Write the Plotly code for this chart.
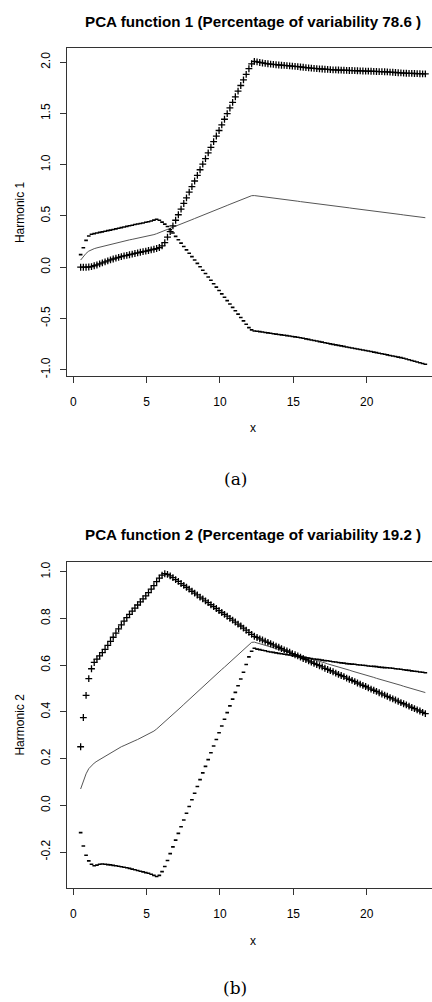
import numpy as np
import plotly.graph_objects as go

# ---------------- data ----------------
x_start, x_end, n_points = 0.5, 24.0, 128

mean_curve = [
    0.070, 0.105, 0.135, 0.157, 0.171, 0.181, 0.189, 0.196, 0.203, 0.210,
    0.218, 0.225, 0.232, 0.239, 0.245, 0.251, 0.256, 0.262, 0.267, 0.272,
    0.277, 0.282, 0.288, 0.293, 0.299, 0.305, 0.311, 0.318, 0.327, 0.337,
    0.347, 0.357, 0.368, 0.379, 0.389, 0.400, 0.411, 0.421, 0.432, 0.443,
    0.453, 0.464, 0.475, 0.485, 0.496, 0.507, 0.517, 0.528, 0.539, 0.550,
    0.560, 0.571, 0.582, 0.592, 0.603, 0.614, 0.624, 0.635, 0.646, 0.657,
    0.667, 0.678, 0.689, 0.698, 0.699, 0.696, 0.692, 0.689, 0.685, 0.682,
    0.678, 0.675, 0.671, 0.668, 0.664, 0.661, 0.657, 0.654, 0.651, 0.647,
    0.644, 0.640, 0.637, 0.633, 0.630, 0.627, 0.623, 0.620, 0.616, 0.613,
    0.610, 0.606, 0.603, 0.599, 0.596, 0.592, 0.589, 0.586, 0.582, 0.579,
    0.575, 0.572, 0.568, 0.565, 0.562, 0.558, 0.555, 0.551, 0.548, 0.544,
    0.541, 0.538, 0.534, 0.531, 0.527, 0.524, 0.520, 0.517, 0.514, 0.510,
    0.507, 0.503, 0.500, 0.497, 0.493, 0.490, 0.486, 0.483,
]

plus_h1 = [
    0.000, 0.000, 0.000, 0.002, 0.006, 0.014, 0.022, 0.032, 0.042, 0.052,
    0.062, 0.071, 0.080, 0.088, 0.096, 0.103, 0.110, 0.116, 0.122, 0.128,
    0.134, 0.140, 0.146, 0.152, 0.157, 0.163, 0.169, 0.175, 0.182, 0.192,
    0.208, 0.240, 0.293, 0.348, 0.403, 0.458, 0.512, 0.567, 0.622, 0.677,
    0.732, 0.786, 0.841, 0.896, 0.951, 1.006, 1.060, 1.115, 1.170, 1.225,
    1.280, 1.334, 1.389, 1.444, 1.499, 1.554, 1.608, 1.663, 1.718, 1.773,
    1.828, 1.882, 1.937, 1.985, 2.008, 2.003, 1.998, 1.993, 1.989, 1.985,
    1.982, 1.979, 1.976, 1.973, 1.971, 1.969, 1.967, 1.965, 1.962, 1.960,
    1.957, 1.954, 1.951, 1.948, 1.945, 1.942, 1.940, 1.938, 1.936, 1.934,
    1.932, 1.930, 1.928, 1.926, 1.925, 1.924, 1.923, 1.922, 1.921, 1.920,
    1.919, 1.918, 1.917, 1.916, 1.915, 1.914, 1.913, 1.912, 1.911, 1.910,
    1.909, 1.908, 1.907, 1.906, 1.904, 1.902, 1.900, 1.898, 1.896, 1.894,
    1.893, 1.892, 1.891, 1.890, 1.889, 1.888, 1.887, 1.886,
]

minus_h1 = [
    0.123, 0.190, 0.262, 0.305, 0.322, 0.328, 0.334, 0.340, 0.345, 0.351,
    0.357, 0.362, 0.368, 0.374, 0.380, 0.386, 0.392, 0.398, 0.404, 0.410,
    0.416, 0.421, 0.426, 0.432, 0.438, 0.444, 0.451, 0.459, 0.468, 0.458,
    0.440, 0.420, 0.397, 0.366, 0.334, 0.301, 0.268, 0.235, 0.202, 0.169,
    0.136, 0.103, 0.070, 0.037, 0.004, -0.029, -0.062, -0.095, -0.128, -0.161,
    -0.194, -0.227, -0.260, -0.293, -0.326, -0.359, -0.392, -0.425, -0.458, -0.491,
    -0.524, -0.557, -0.590, -0.612, -0.622, -0.625, -0.629, -0.633, -0.637, -0.641,
    -0.645, -0.649, -0.653, -0.656, -0.660, -0.664, -0.668, -0.672, -0.676, -0.680,
    -0.684, -0.688, -0.693, -0.699, -0.704, -0.710, -0.715, -0.720, -0.726, -0.731,
    -0.737, -0.742, -0.748, -0.753, -0.758, -0.763, -0.768, -0.773, -0.778, -0.783,
    -0.788, -0.793, -0.798, -0.803, -0.808, -0.813, -0.818, -0.823, -0.829, -0.834,
    -0.839, -0.845, -0.850, -0.855, -0.861, -0.866, -0.871, -0.877, -0.882, -0.889,
    -0.896, -0.903, -0.911, -0.918, -0.925, -0.932, -0.940, -0.947,
]

plus_h2 = [
    0.251, 0.376, 0.471, 0.543, 0.585, 0.612, 0.626, 0.640, 0.654, 0.668,
    0.685, 0.702, 0.720, 0.738, 0.756, 0.773, 0.789, 0.804, 0.818, 0.832,
    0.845, 0.858, 0.871, 0.884, 0.897, 0.911, 0.926, 0.941, 0.958, 0.973,
    0.986, 0.992, 0.989, 0.983, 0.975, 0.967, 0.959, 0.950, 0.942, 0.934,
    0.926, 0.917, 0.909, 0.901, 0.892, 0.884, 0.876, 0.868, 0.859, 0.851,
    0.843, 0.834, 0.826, 0.818, 0.810, 0.801, 0.793, 0.785, 0.776, 0.768,
    0.759, 0.750, 0.741, 0.732, 0.724, 0.719, 0.713, 0.708, 0.703, 0.698,
    0.692, 0.687, 0.682, 0.677, 0.671, 0.666, 0.661, 0.656, 0.650, 0.645,
    0.640, 0.635, 0.629, 0.624, 0.619, 0.614, 0.608, 0.603, 0.598, 0.593,
    0.587, 0.582, 0.577, 0.572, 0.566, 0.561, 0.556, 0.551, 0.545, 0.540,
    0.535, 0.530, 0.524, 0.519, 0.514, 0.509, 0.503, 0.498, 0.493, 0.488,
    0.482, 0.477, 0.472, 0.467, 0.461, 0.456, 0.451, 0.446, 0.440, 0.435,
    0.430, 0.425, 0.419, 0.414, 0.409, 0.404, 0.398, 0.393,
]

minus_h2 = [
    -0.117, -0.174, -0.214, -0.238, -0.252, -0.259, -0.256, -0.252, -0.251, -0.252,
    -0.254, -0.255, -0.257, -0.259, -0.261, -0.263, -0.265, -0.267, -0.270, -0.273,
    -0.276, -0.279, -0.282, -0.285, -0.288, -0.291, -0.295, -0.300, -0.305, -0.300,
    -0.284, -0.262, -0.236, -0.207, -0.178, -0.149, -0.120, -0.092, -0.063, -0.034,
    -0.005, 0.024, 0.052, 0.081, 0.110, 0.139, 0.167, 0.196, 0.225, 0.254,
    0.282, 0.311, 0.340, 0.369, 0.397, 0.426, 0.455, 0.484, 0.512, 0.541,
    0.570, 0.603, 0.636, 0.660, 0.673, 0.669, 0.667, 0.664, 0.662, 0.659,
    0.657, 0.655, 0.653, 0.651, 0.649, 0.647, 0.645, 0.644, 0.642, 0.640,
    0.638, 0.636, 0.634, 0.632, 0.631, 0.629, 0.627, 0.626, 0.624, 0.622,
    0.620, 0.619, 0.617, 0.615, 0.614, 0.612, 0.610, 0.609, 0.607, 0.606,
    0.605, 0.604, 0.602, 0.601, 0.600, 0.599, 0.597, 0.596, 0.595, 0.594,
    0.592, 0.591, 0.590, 0.589, 0.588, 0.587, 0.585, 0.584, 0.583, 0.581,
    0.579, 0.578, 0.576, 0.574, 0.573, 0.571, 0.570, 0.568,
]

titles = ["PCA function 1 (Percentage of variability 78.6 )",
          "PCA function 2 (Percentage of variability 19.2 )"]
y_titles = ["Harmonic 1", "Harmonic 2"]
x_title = "x"
captions = ["(a)", "(b)"]
x_ticks = [0, 5, 10, 15, 20]
y_ticks_1 = [-1.0, -0.5, 0.0, 0.5, 1.0, 1.5, 2.0]
y_ticklabels_1 = ["-1.0", "-0.5", "0.0", "0.5", "1.0", "1.5", "2.0"]
y_ticks_2 = [-0.2, 0.0, 0.2, 0.4, 0.6, 0.8, 1.0]
y_ticklabels_2 = ["-0.2", "0.0", "0.2", "0.4", "0.6", "0.8", "1.0"]

# ---------------- figure ----------------
W, H = 432, 1002
x = np.linspace(x_start, x_end, n_points)

SANS = "Liberation Sans, Arial, sans-serif"
SERIF = "DejaVu Serif, Liberation Serif, serif"
AX = "#333333"


def px(xp):
    return xp / W


def py(yp):
    return 1 - yp / H


fig = go.Figure()

panels = [
    dict(xa="x", ya="y", plus=plus_h1, minus=minus_h1),
    dict(xa="x2", ya="y2", plus=plus_h2, minus=minus_h2),
]
for p in panels:
    fig.add_trace(go.Scatter(x=x, y=mean_curve, mode="lines",
                             line=dict(color="#555555", width=1),
                             xaxis=p["xa"], yaxis=p["ya"], hoverinfo="skip"))
    fig.add_trace(go.Scatter(x=x, y=p["plus"], mode="markers",
                             marker=dict(symbol="cross-thin", size=4.9, color="black",
                                         line=dict(color="black", width=1.3)),
                             xaxis=p["xa"], yaxis=p["ya"], hoverinfo="skip"))
    fig.add_trace(go.Scatter(x=x, y=p["minus"], mode="markers",
                             marker=dict(symbol="line-ew", size=2.6, color="black",
                                         line=dict(color="black", width=1.6)),
                             xaxis=p["xa"], yaxis=p["ya"], hoverinfo="skip"))

xcommon = dict(range=[-0.43, 24.455], tickmode="array", tickvals=x_ticks,
               ticks="outside", ticklen=6, tickcolor=AX, tickwidth=1,
               showline=True, linecolor=AX, linewidth=1, mirror=True,
               showgrid=False, zeroline=False, ticklabelstandoff=8,
               tickfont=dict(family=SANS, size=12, color="black"))
ycommon = dict(tickmode="array", ticks="outside", ticklen=6, tickcolor=AX, tickwidth=1,
               showline=True, linecolor=AX, linewidth=1, mirror=False,
               showgrid=False, zeroline=False, tickangle=-90, ticklabelstandoff=5,
               tickfont=dict(family=SANS, size=12, color="black"))

fig.update_layout(
    width=W, height=H, margin=dict(l=0, r=0, t=0, b=0),
    paper_bgcolor="white", plot_bgcolor="white", showlegend=False,
    xaxis=dict(domain=[px(67), 1.0], anchor="y", **xcommon),
    yaxis=dict(domain=[py(377), py(48)], anchor="x", range=[-1.064, 2.14],
               tickvals=y_ticks_1, ticktext=y_ticklabels_1, **ycommon),
    xaxis2=dict(domain=[px(67), 1.0], anchor="y2", **xcommon),
    yaxis2=dict(domain=[py(890), py(562.7)], anchor="x2", range=[-0.355, 1.044],
                tickvals=y_ticks_2, ticktext=y_ticklabels_2, **ycommon),
)

ann = []
for i, (ty, xy, hy, cy) in enumerate([(22, 429, 212.5, 480), (535.5, 943, 726, 990)]):
    ann.append(dict(x=px(253), y=py(ty), xref="paper", yref="paper", text="<b>%s</b>" % titles[i],
                    showarrow=False, xanchor="center", yanchor="middle",
                    font=dict(family=SANS, size=15.2, color="black")))
    ann.append(dict(x=px(253), y=py(xy), xref="paper", yref="paper", text=x_title,
                    showarrow=False, xanchor="center", yanchor="middle",
                    font=dict(family=SANS, size=12, color="black")))
    ann.append(dict(x=px(20), y=py(hy), xref="paper", yref="paper", text=y_titles[i],
                    showarrow=False, xanchor="center", yanchor="middle", textangle=-90,
                    font=dict(family=SANS, size=12, color="black")))
    ann.append(dict(x=px(235), y=py(cy), xref="paper", yref="paper", text=captions[i],
                    showarrow=False, xanchor="center", yanchor="middle",
                    font=dict(family=SERIF, size=17, color="black")))
fig.update_layout(annotations=ann)

fig.write_html("out.html", config={"displayModeBar": False},
               post_script="document.body.style.margin='0px';")
